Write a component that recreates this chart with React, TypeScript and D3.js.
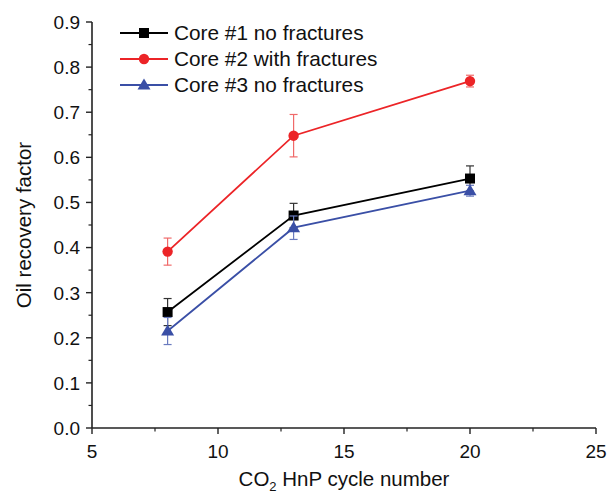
import React from "react";
import * as d3 from "d3";

const cycles = [8, 13, 20];
const core1 = [0.257, 0.471, 0.553];
const core1Err = [0.03, 0.027, 0.028];
const core2 = [0.391, 0.648, 0.769];
const core2Err = [0.03, 0.047, 0.013];
const core3 = [0.215, 0.444, 0.526];
const core3Err = [0.03, 0.026, 0.012];
const seriesNames = ["Core #1 no fractures", "Core #2 with fractures", "Core #3 no fractures"];
const xTicks = [5, 10, 15, 20, 25];
const yTicks = [0, 0.1, 0.2, 0.3, 0.4, 0.5, 0.6, 0.7, 0.8, 0.9];

const W = 610, H = 496;
const L = 92, R = 596, T = 22, B = 428;
const colors = ["#000000", "#ec2427", "#3a4fa6"];
const errColors = ["#333333", "#f06a6a", "#6a7bbf"];
const shapes = ["square", "circle", "triangle"];
const FONT = "Arial, 'Liberation Sans', sans-serif";

function Marker({ shape, x, y, color }: { shape: string; x: number; y: number; color: string }) {
  if (shape === "square") return <rect x={x - 5} y={y - 5} width={10} height={10} fill={color} />;
  if (shape === "circle") return <circle cx={x} cy={y} r={5.2} fill={color} />;
  const s = 6.5;
  return <path d={`M${x},${y - s}L${x + s},${y + s * 0.7}L${x - s},${y + s * 0.7}Z`} fill={color} />;
}

export default function App() {
  const x = d3.scaleLinear().domain([5, 25]).range([L, R]);
  const y = d3.scaleLinear().domain([0, 0.9]).range([B, T]);
  const data = [core1, core2, core3];
  const errs = [core1Err, core2Err, core3Err];
  const line = d3.line<number>().x((_, i) => x(cycles[i])).y((d) => y(d));
  const xMinor = d3.range(7.5, 25, 5);
  const yMinor = d3.range(0.05, 0.9, 0.1);

  return (
    <svg width={W} height={H} style={{ position: "absolute", left: 0, top: 0, background: "#fff" }} fontFamily={FONT}>
      <line x1={L} x2={L} y1={T} y2={B} stroke="#222" strokeWidth={1.6} />
      <line x1={L} x2={R} y1={B} y2={B} stroke="#222" strokeWidth={1.6} />
      {yTicks.map((t) => (
        <g key={"y" + t}>
          <line x1={L - 6} x2={L} y1={y(t)} y2={y(t)} stroke="#222" strokeWidth={1.4} />
          <text x={L - 12} y={y(t)} dy="0.36em" textAnchor="end" fontSize={19} fill="#111">
            {t.toFixed(1)}
          </text>
        </g>
      ))}
      {yMinor.map((t) => (
        <line key={"ym" + t} x1={L - 3.5} x2={L} y1={y(t)} y2={y(t)} stroke="#222" strokeWidth={1.2} />
      ))}
      {xTicks.map((t) => (
        <g key={"x" + t}>
          <line x1={x(t)} x2={x(t)} y1={B} y2={B + 6} stroke="#222" strokeWidth={1.4} />
          <text x={x(t)} y={B + 30} textAnchor="middle" fontSize={19} fill="#111">
            {t}
          </text>
        </g>
      ))}
      {xMinor.map((t) => (
        <line key={"xm" + t} x1={x(t)} x2={x(t)} y1={B} y2={B + 3.5} stroke="#222" strokeWidth={1.2} />
      ))}
      <text x={(L + R) / 2} y={486} textAnchor="middle" fontSize={20.5} fill="#111">
        CO<tspan fontSize={13} dy={5}>2</tspan>
        <tspan dy={-5}> HnP cycle number</tspan>
      </text>
      <text transform={`translate(31,${(T + B) / 2}) rotate(-90)`} textAnchor="middle" fontSize={20.5} fill="#111">
        Oil recovery factor
      </text>
      {data.map((d, si) => (
        <g key={"s" + si}>
          {d.map((v, i) => {
            const e = errs[si][i];
            const cx = x(cycles[i]);
            return (
              <g key={i} stroke={errColors[si]} strokeWidth={1.2}>
                <line x1={cx} x2={cx} y1={y(v - e)} y2={y(v + e)} />
                <line x1={cx - 4} x2={cx + 4} y1={y(v - e)} y2={y(v - e)} />
                <line x1={cx - 4} x2={cx + 4} y1={y(v + e)} y2={y(v + e)} />
              </g>
            );
          })}
          <path d={line(d) || ""} fill="none" stroke={colors[si]} strokeWidth={1.8} />
          {d.map((v, i) => (
            <Marker key={"m" + i} shape={shapes[si]} x={x(cycles[i])} y={y(v)} color={colors[si]} />
          ))}
        </g>
      ))}
      {seriesNames.map((n, i) => {
        const ly = 33 + i * 26;
        return (
          <g key={"l" + i}>
            <line x1={120} x2={168} y1={ly} y2={ly} stroke={colors[i]} strokeWidth={1.8} />
            <Marker shape={shapes[i]} x={144} y={ly} color={colors[i]} />
            <text x={174} y={ly} dy="0.36em" fontSize={20.8} fill="#111">
              {n}
            </text>
          </g>
        );
      })}
    </svg>
  );
}
